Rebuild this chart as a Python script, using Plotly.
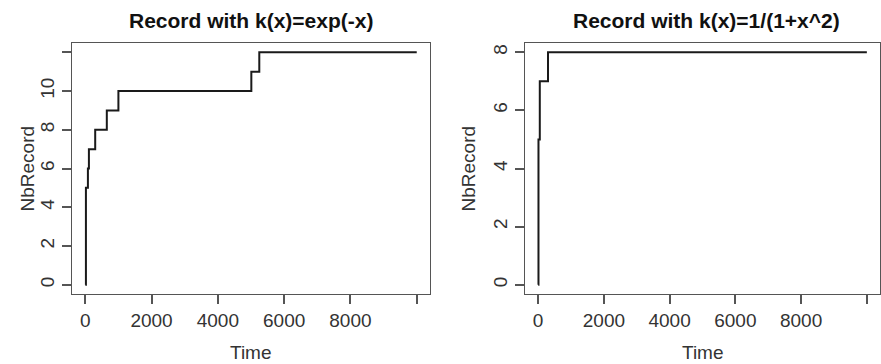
import plotly.graph_objects as go

# Left panel: k(x)=exp(-x)
time_exp = [1, 20, 80, 110, 300, 650, 1000, 5010, 5250, 10000]
rec_exp = [0, 5, 6, 7, 8, 9, 10, 11, 12, 12]

# Right panel: k(x)=1/(1+x^2)
time_cau = [1, 10, 50, 300, 10000]
rec_cau = [0, 5, 7, 8, 8]

x_ticks = [0, 2000, 4000, 6000, 8000, 10000]
x_ticktext = ["0", "2000", "4000", "6000", "8000", ""]
y_ticks_left = [0, 2, 4, 6, 8, 10, 12]
y_ticktext_left = ["0", "2", "4", "6", "8", "10", ""]
y_ticks_right = [0, 2, 4, 6, 8]
y_ticktext_right = ["0", "2", "4", "6", "8"]

titles = ["Record with k(x)=exp(-x)", "Record with k(x)=1/(1+x^2)"]

W, H = 881, 364
FONT = "Liberation Sans, Arial, sans-serif"
AX = "#555555"
TXT = "#333333"
LINE = "#1a1a1a"

fig = go.Figure()
fig.add_trace(go.Scatter(x=time_exp, y=rec_exp, mode="lines", line=dict(shape="hv", color=LINE, width=2),
                         xaxis="x", yaxis="y", showlegend=False))
fig.add_trace(go.Scatter(x=time_cau, y=rec_cau, mode="lines", line=dict(shape="hv", color=LINE, width=2),
                         xaxis="x2", yaxis="y2", showlegend=False))

ydom = [(H - 294) / H, (H - 43) / H]
common_x = dict(showgrid=False, zeroline=False, showline=True, linecolor=AX, linewidth=1, mirror=True,
                ticks="outside", ticklen=9, tickcolor=AX, tickwidth=1.5,
                tickvals=x_ticks, ticktext=x_ticktext, range=[-400, 10400],
                tickfont=dict(family=FONT, size=19, color=TXT))
common_y = dict(showgrid=False, zeroline=False, showline=True, linecolor=AX, linewidth=1, mirror=True,
                ticks="outside", ticklen=9, tickcolor=AX, tickwidth=1.5, tickangle=-90,
                tickfont=dict(family=FONT, size=19, color=TXT), domain=ydom)

fig.update_layout(
    width=W, height=H, margin=dict(l=0, r=0, t=0, b=0),
    paper_bgcolor="white", plot_bgcolor="white",
    xaxis=dict(domain=[72 / W, 430 / W], anchor="y", **common_x),
    yaxis=dict(anchor="x", range=[-0.48, 12.48], tickvals=y_ticks_left, ticktext=y_ticktext_left, **common_y),
    xaxis2=dict(domain=[525 / W, 880 / W], anchor="y2", **common_x),
    yaxis2=dict(anchor="x2", range=[-0.32, 8.32], tickvals=y_ticks_right, ticktext=y_ticktext_right, **common_y),
)

ann = []
for cx, t in [((72 + 430) / 2 / W, titles[0]), ((525 + 880) / 2 / W + 0.004, titles[1])]:
    ann.append(dict(text="<b>" + t + "</b>", x=cx, y=1 - 20 / H, xref="paper", yref="paper",
                    showarrow=False, xanchor="center", yanchor="middle",
                    font=dict(family=FONT, size=21, color="#111111")))
for cx in [(72 + 430) / 2 / W, (525 + 880) / 2 / W]:
    ann.append(dict(text="Time", x=cx, y=12 / H, xref="paper", yref="paper", showarrow=False,
                    xanchor="center", yanchor="middle", font=dict(family=FONT, size=19, color=TXT)))
for cx in [27 / W, 468 / W]:
    ann.append(dict(text="NbRecord", x=cx, y=(H - (43 + 294) / 2) / H, xref="paper", yref="paper",
                    showarrow=False, textangle=-90, xanchor="center", yanchor="middle",
                    font=dict(family=FONT, size=19, color=TXT)))
fig.update_layout(annotations=ann)

fig.write_html("out.html")
